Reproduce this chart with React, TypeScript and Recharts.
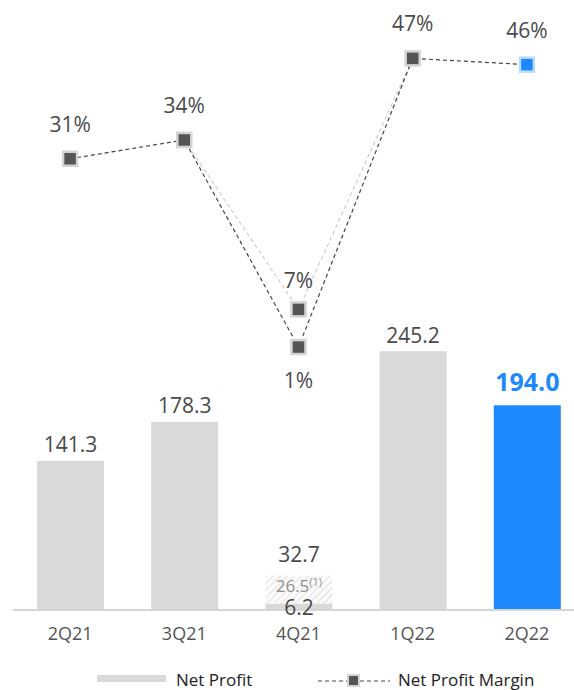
import { ComposedChart, Bar, Line, XAxis, YAxis, LabelList } from "recharts";

const quarters = ["2Q21", "3Q21", "4Q21", "1Q22", "2Q22"];
const netProfit = [141.3, 178.3, 6.2, 245.2, 194.0];
const adjustment = [0, 0, 26.5, 0, 0];
const adjustedTotal = [null, null, 32.7, null, null];
const margin = [31, 34, 1, 47, 46];
const adjustedMargin = [null, 34, 7, 47, null];

const data = quarters.map((q, i) => ({
  q,
  netProfit: netProfit[i],
  adjustment: adjustment[i],
  margin: margin[i],
  adjMargin: adjustedMargin[i],
}));

const FONT = "'Open Sans', sans-serif";
const GRAY = "#d9d9d9";
const BLUE = "#1e88ff";
const TEXT = "#4a4a4a";
const LAST = quarters.length - 1;

function Marker(props: any) {
  const { cx, cy, index, blue } = props;
  if (cx == null || cy == null) return null;
  const isBlue = blue && index === LAST;
  return (
    <rect
      x={cx - 7}
      y={cy - 7}
      width={14}
      height={14}
      fill={isBlue ? BLUE : "#555"}
      stroke={isBlue ? "#bcdcff" : "#d4d4d4"}
      strokeWidth={2.5}
    />
  );
}

function AdjMarker(props: any) {
  const { index } = props;
  if (index !== 2) return null;
  return <Marker {...props} />;
}

// 막대 값 라벨 (4Q21은 조정분 라벨까지 함께)
function BarValueLabel(props: any) {
  const { x, y, width, height, index } = props;
  const v = netProfit[index];
  const cx = x + width / 2;
  if (index === 2) {
    const k = height / v;
    const adj = adjustment[index];
    const segTop = y - adj * k;
    return (
      <g fontFamily={FONT}>
        <text x={cx} y={y - (adj * k) / 2 + 3} textAnchor="middle" fontSize={17} fill="#8f8f8f">
          {adj.toFixed(1)}
          <tspan fontSize={11} dy={-6}>(1)</tspan>
        </text>
        <text x={cx} y={segTop - 13.5} textAnchor="middle" fontSize={21} fill={TEXT}>
          {adjustedTotal[index]!.toFixed(1)}
        </text>
        <text x={cx} y={y + 12} textAnchor="middle" fontSize={21} fill={TEXT}>
          {v.toFixed(1)}
        </text>
      </g>
    );
  }
  if (index === LAST) {
    return (
      <text x={cx} y={y - 14} textAnchor="middle" fontSize={25} fontWeight={700} fill={BLUE} fontFamily={FONT}>
        {v.toFixed(1)}
      </text>
    );
  }
  return (
    <text x={cx} y={y - 8.5} textAnchor="middle" fontSize={21} fill={TEXT} fontFamily={FONT}>
      {v.toFixed(1)}
    </text>
  );
}

function MarginLabel(props: any) {
  const { x, y, index } = props;
  const dy = index === 2 ? 41 : -27;
  return (
    <text x={x} y={y + dy} textAnchor="middle" fontSize={21} fill={TEXT} fontFamily={FONT}>
      {margin[index]}%
    </text>
  );
}

function AdjMarginLabel(props: any) {
  const { x, y, index } = props;
  if (index !== 2) return null;
  return (
    <text x={x} y={y - 21} textAnchor="middle" fontSize={21} fill={TEXT} fontFamily={FONT}>
      {adjustedMargin[index]}%
    </text>
  );
}

export default function App() {
  return (
    <div style={{ position: "absolute", left: 0, top: 0, width: 574, height: 690, overflow: "hidden", background: "#fff" }}>
      <ComposedChart
        width={590}
        height={690}
        data={data}
        margin={{ top: 0, right: 6, left: 13, bottom: 50 }}
        barSize={67}
      >
        <defs>
          <pattern id="hatch" width="5" height="5" patternUnits="userSpaceOnUse" patternTransform="rotate(45)">
            <rect width="5" height="5" fill="#fbfbfb" />
            <line x1="0" y1="0" x2="0" y2="5" stroke="#d6d6d6" strokeWidth={1.4} />
          </pattern>
        </defs>
        <XAxis
          dataKey="q"
          axisLine={{ stroke: "#d6d6d6", strokeWidth: 2 }}
          tickLine={false}
          height={30}
          tickMargin={11}
          tick={{ fontSize: 18, fill: "#555", fontFamily: FONT }}
        />
        <YAxis yAxisId="l" hide domain={[0, 578]} />
        <YAxis yAxisId="r" hide orientation="right" domain={[-40.9, 56.3]} />
        <Bar yAxisId="l" dataKey="netProfit" stackId="a" fill={GRAY} isAnimationActive={false}
          shape={(p: any) => (
            <rect x={p.x} y={p.y} width={p.width} height={p.height} fill={p.index === LAST ? BLUE : GRAY} />
          )}
        >
          <LabelList dataKey="netProfit" content={BarValueLabel} />
        </Bar>
        <Bar yAxisId="l" dataKey="adjustment" stackId="a" fill="url(#hatch)" isAnimationActive={false} />
        <Line
          yAxisId="r"
          dataKey="adjMargin"
          stroke="#cfcfcf"
          strokeWidth={1.2}
          strokeDasharray="4 3"
          dot={<AdjMarker />}
          activeDot={false}
          isAnimationActive={false}
        >
          <LabelList dataKey="adjMargin" content={AdjMarginLabel} />
        </Line>
        <Line
          yAxisId="r"
          dataKey="margin"
          stroke="#444"
          strokeWidth={1.2}
          strokeDasharray="4 3"
          dot={<Marker blue />}
          activeDot={false}
          isAnimationActive={false}
        >
          <LabelList dataKey="margin" content={MarginLabel} />
        </Line>
      </ComposedChart>

      {/* 범례 */}
      <div style={{ position: "absolute", left: 97, top: 675, width: 69, height: 7, background: GRAY }} />
      <div style={{ position: "absolute", left: 176, top: 670, fontSize: 17, fontFamily: FONT, color: "#222", lineHeight: "20px" }}>
        Net Profit
      </div>
      <svg style={{ position: "absolute", left: 316, top: 671 }} width={76} height={20}>
        <line x1={2} y1={10} x2={74} y2={10} stroke="#444" strokeWidth={1.2} strokeDasharray="4 3" />
        <rect x={32} y={4} width={11} height={11} fill="#555" stroke="#d4d4d4" strokeWidth={2} />
      </svg>
      <div style={{ position: "absolute", left: 398, top: 670, fontSize: 17, fontFamily: FONT, color: "#222", lineHeight: "20px" }}>
        Net Profit Margin
      </div>
    </div>
  );
}
